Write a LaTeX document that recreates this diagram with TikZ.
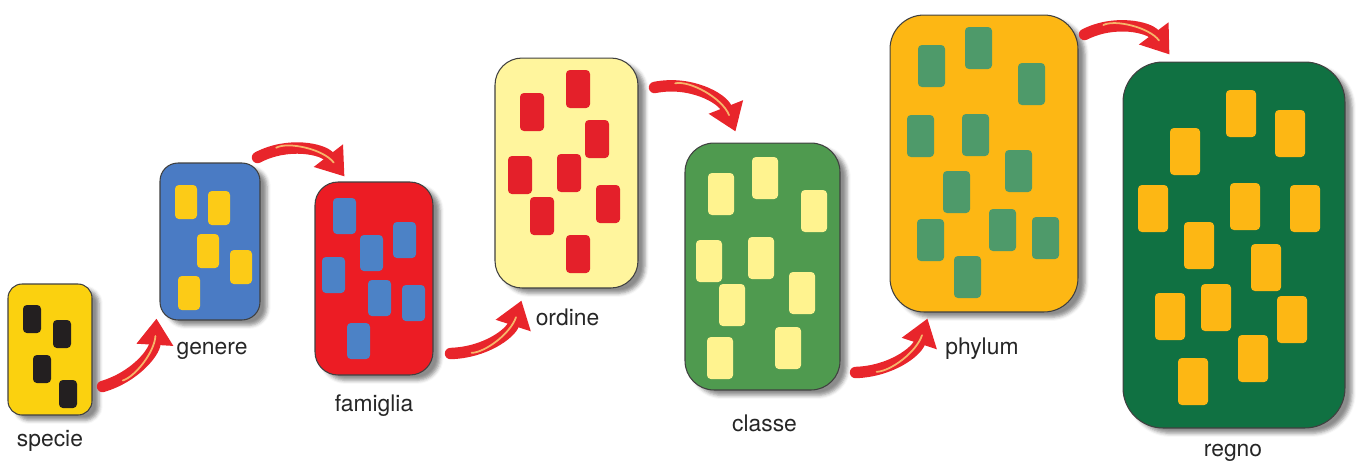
\documentclass[tikz,border=0pt]{standalone}
\usepackage{fontspec}
\setmainfont{TeX Gyre Heros}
\usetikzlibrary{calc,arrows.meta,shadows.blur}
\tikzset {>=Stealth}

\definecolor{specieBg}{HTML}{FBD10F}
\definecolor{specieChip}{HTML}{231F20}
\definecolor{genereBg}{HTML}{4A7BC4}
\definecolor{genereChip}{HTML}{FCCB17}
\definecolor{famigliaBg}{HTML}{EC1C24}
\definecolor{famigliaChip}{HTML}{4C82C6}
\definecolor{ordineBg}{HTML}{FFF59D}
\definecolor{ordineChip}{HTML}{E4202A}
\definecolor{classeBg}{HTML}{4F9A4F}
\definecolor{classeChip}{HTML}{FFF38F}
\definecolor{phylumBg}{HTML}{FDB714}
\definecolor{phylumChip}{HTML}{4E9A6A}
\definecolor{regnoBg}{HTML}{107142}
\definecolor{regnoChip}{HTML}{FDB714}
\definecolor{brushRed}{HTML}{E8252B}
\definecolor{brushStreak}{HTML}{F7B56A}

\tikzset{
  taxon/.style={rectangle, draw=black!75, line width=.6pt, inner sep=0pt,
    blur shadow={shadow xshift=4pt, shadow yshift=-3pt, shadow opacity=45}},
  chip/.style={rounded corners=2.2pt},
  rankname/.style={font=\fontsize{13}{15}\selectfont, text=black!85},
  brush/.style={draw=brushRed, line width=6.5pt, line cap=round,
    -{Triangle[length=15pt,width=20pt]},
    postaction={draw=brushStreak, line width=1pt, -, shorten >=10pt, shorten <=12pt}}
}

\begin{document}
\begin{tikzpicture}[x=.02cm,y=-.02cm]
\useasboundingbox (0,0) rectangle (1356,464);

% boxes
\node[taxon, fill=specieBg, minimum width=1.68cm, minimum height=2.62cm,
  rounded corners=.28cm] (specie) at (50,349.5) {};
\node[taxon, fill=genereBg, minimum width=2cm, minimum height=3.14cm,
  rounded corners=.36cm] (genere) at (210,241.5) {};
\node[taxon, fill=famigliaBg, minimum width=2.36cm, minimum height=3.86cm,
  rounded corners=.46cm] (famiglia) at (374,278.5) {};
\node[taxon, fill=ordineBg, minimum width=2.86cm, minimum height=4.6cm,
  rounded corners=.54cm] (ordine) at (566.5,173) {};
\node[taxon, fill=classeBg, minimum width=3.1cm, minimum height=4.94cm,
  rounded corners=.58cm] (classe) at (762.5,266.5) {};
\node[taxon, fill=phylumBg, minimum width=3.76cm, minimum height=5.94cm,
  rounded corners=.68cm] (phylum) at (984,163.5) {};
\node[taxon, fill=regnoBg, minimum width=4.44cm, minimum height=7.32cm,
  rounded corners=.8cm] (regno) at (1234,245) {};

% members
\foreach \cx/\cy in {23/305,53/320,33/355,59/380}
  \fill[chip, fill=specieChip] (\cx,\cy) rectangle ++(18,28);
\foreach \cx/\cy in {175/185,208/191,197/234,230/250,178/276}
  \fill[chip, fill=genereChip] (\cx,\cy) rectangle ++(22,34);
\foreach \cx/\cy in {333/198,393/222,360/235,322/257,368/280,402/285,347/323}
  \fill[chip, fill=famigliaChip] (\cx,\cy) rectangle ++(23,36);
\foreach \cx/\cy in {566/70,520/93,585/120,508/156,557/154,530/197,596/185,566/235}
  \fill[chip, fill=ordineChip] (\cx,\cy) rectangle ++(24,38);
\foreach \cx/\cy in {708/173,752/157,801/190,696/240,748/237,789/272,719/284,707/337,775/327}
  \fill[chip, fill=classeChip] (\cx,\cy) rectangle ++(26,42);
\foreach \cx/\cy in {918/45,965/27,1018/63,907/115,962/114,1005/150,943/171,917/219,989/209,1032/217,954/256}
  \fill[chip, fill=phylumChip] (\cx,\cy) rectangle ++(27,42);
\foreach \cx/\cy in {1226/90,1275/110,1170/128,1138/185,1230/183,1290/185,1184/222,1251/244,1155/293,1201/284,1277/296,1238/335,1178/358}
  \fill[chip, fill=regnoChip] (\cx,\cy) rectangle ++(30,47);

% names
\node[rankname] (specieName) at ([shift={(0,25)}]specie.south) {specie};
\node[rankname] (genereName) at ([shift={(2,30)}]genere.south) {genere};
\node[rankname] (famigliaName) at ([shift={(0,30)}]famiglia.south) {famiglia};
\node[rankname] (ordineName) at ([shift={(1,29)}]ordine.south) {ordine};
\node[rankname] (classeName) at ([shift={(2,33)}]classe.south) {classe};
\node[rankname] (phylumName) at ([shift={(-2,36)}]phylum.south) {phylum};
\node[rankname] (regnoName) at ([shift={(-1,24)}]regno.south) {regno};

% arrows
\draw[brush] ([shift={(10,37)}]specie.east) to[bend right=35]
  ([shift={(-3,-2)}]genere.south west);
\draw[brush] ([shift={(-3,-5)}]genere.north east) to[bend left=40]
  ([shift={(30,-5)}]famiglia.north west);
\draw[brush] ([shift={(17,-22)}]famiglia.south east) to[bend right=35]
  ([shift={(27,12)}]ordine.south west);
\draw[brush] ([shift={(16,30)}]ordine.north east) to[bend left=40]
  ([shift={(-27,-11)}]classe.north);
\draw[brush] ([shift={(15,-18)}]classe.south east) to[bend right=35]
  ([shift={(38,6)}]phylum.south west);
\draw[brush] ([shift={(6,20)}]phylum.north east) to[bend left=40]
  ([shift={(47,-7)}]regno.north west);
\end{tikzpicture}
\end{document}
